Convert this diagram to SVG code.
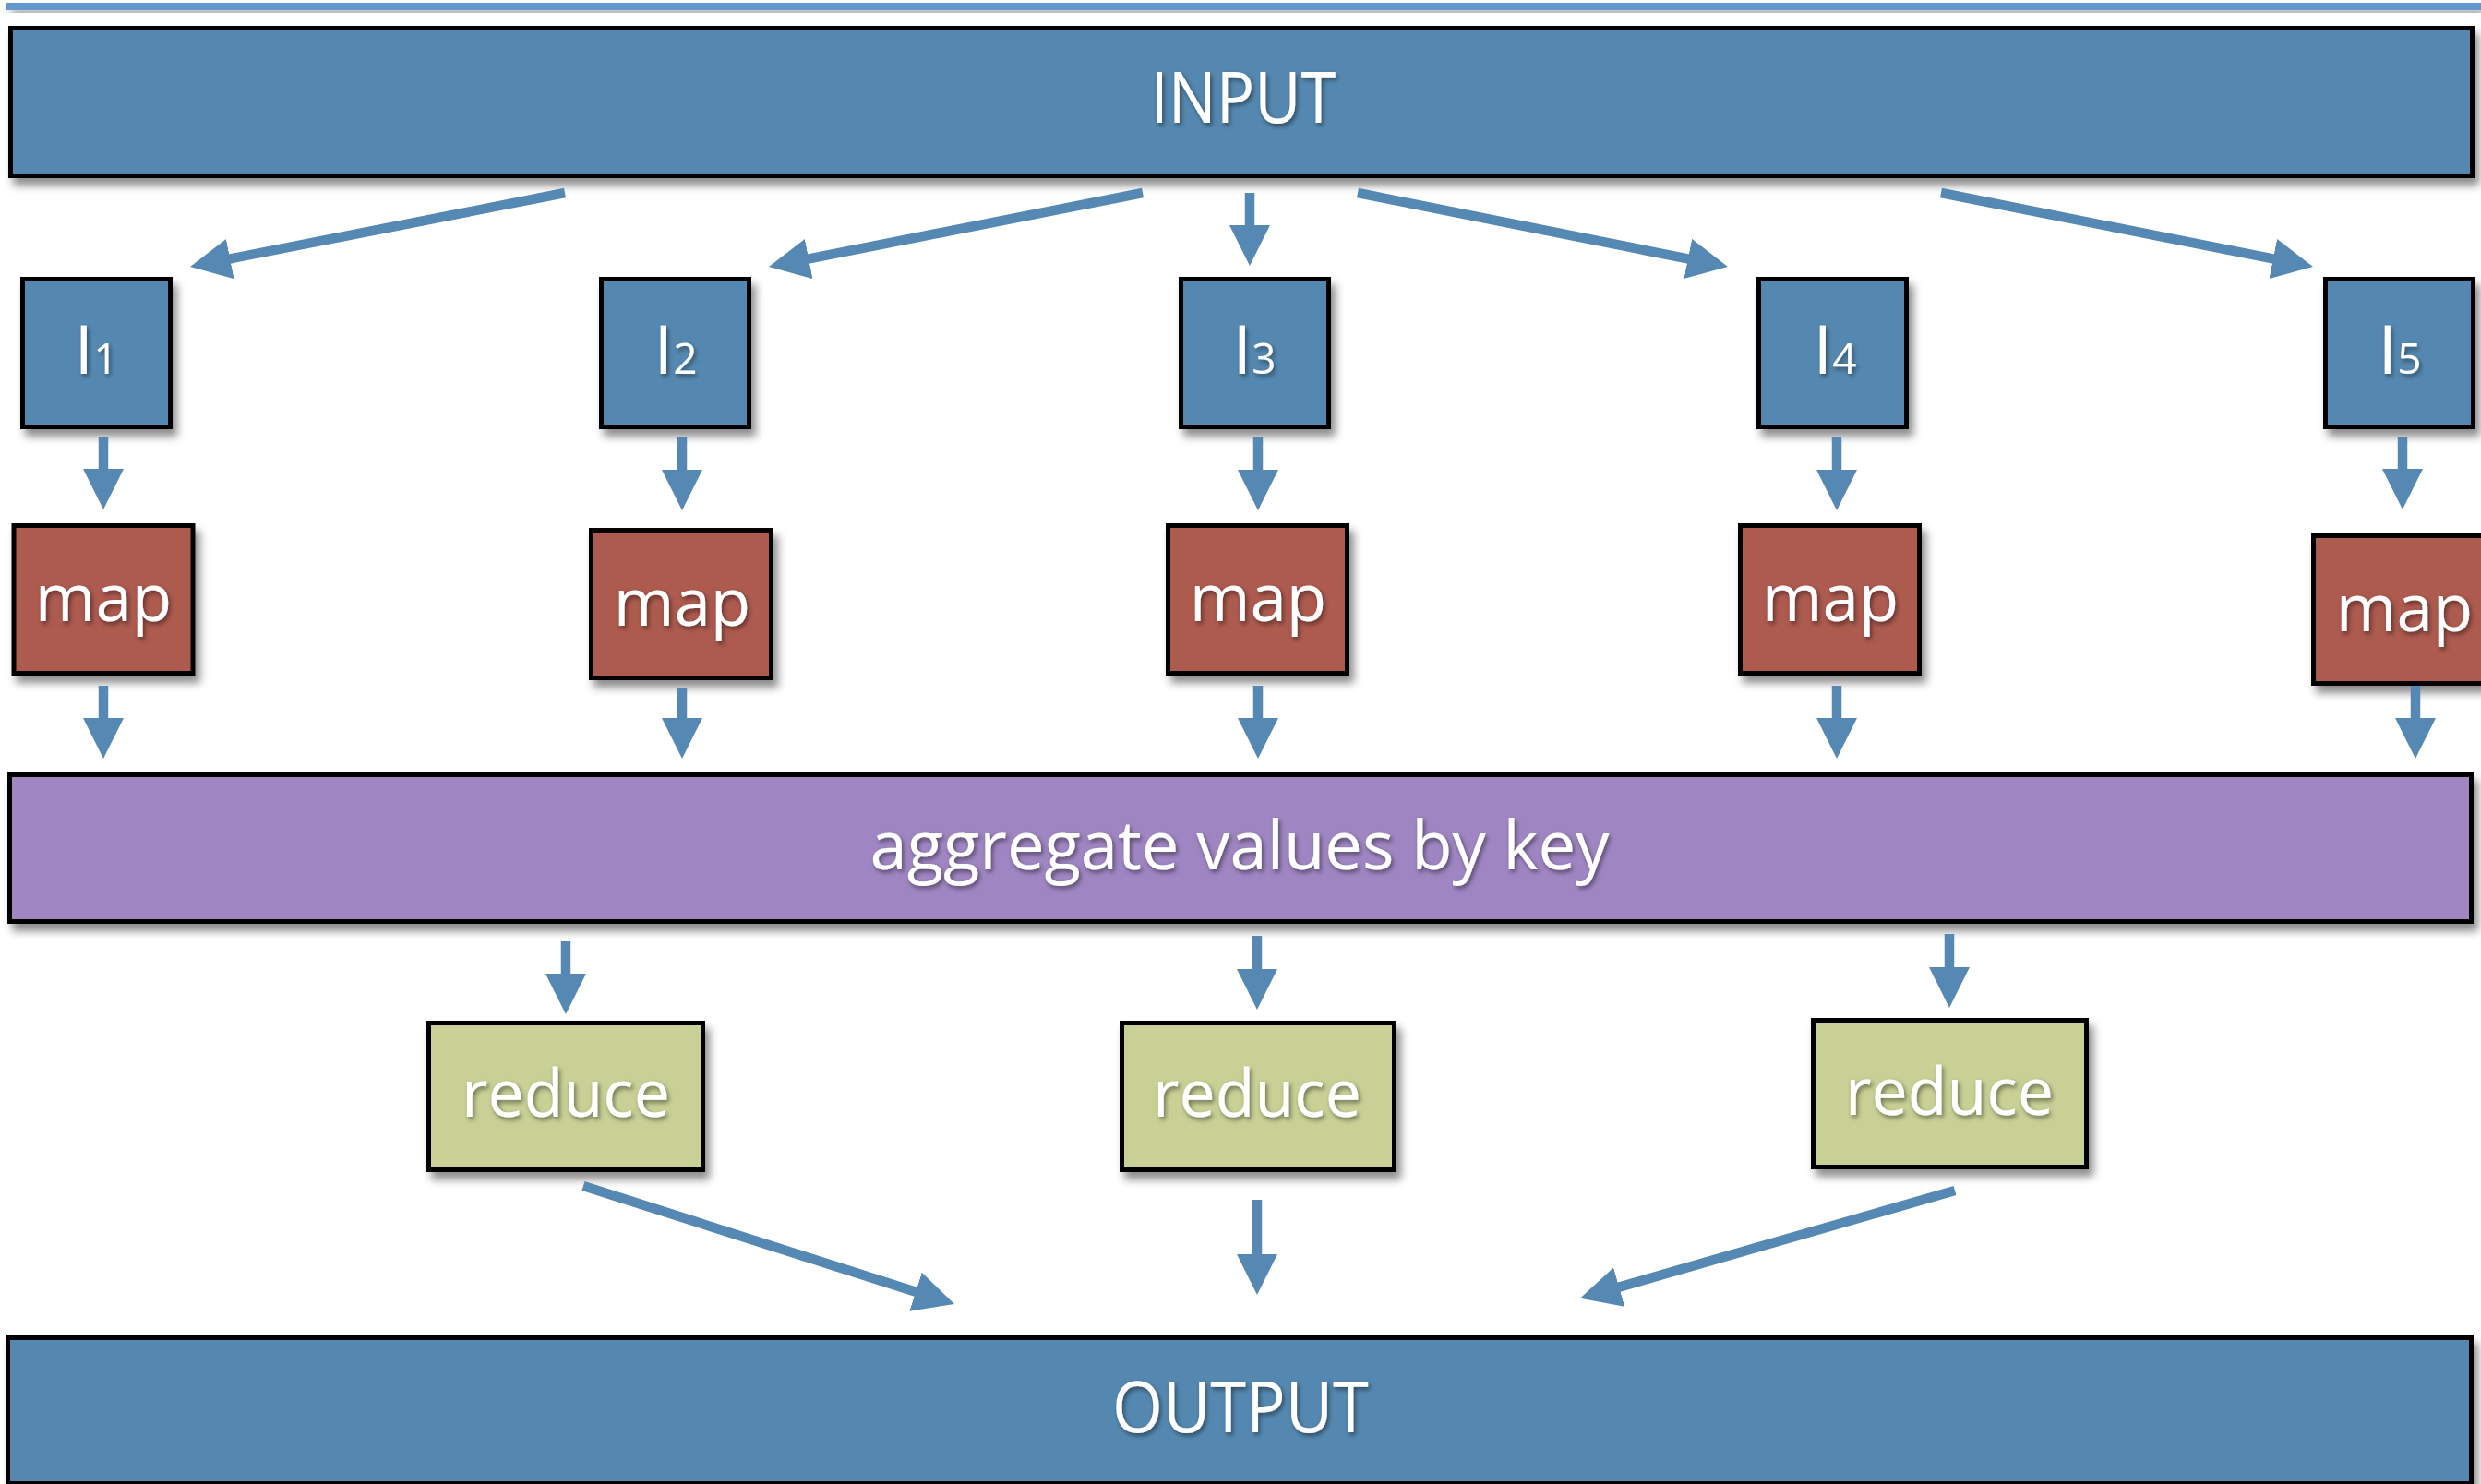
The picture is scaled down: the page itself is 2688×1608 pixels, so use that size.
<svg xmlns="http://www.w3.org/2000/svg" width="2688" height="1608" viewBox="0 0 2688 1608">
<defs>
<filter id="sh" x="-10%" y="-10%" width="130%" height="140%">
<feDropShadow dx="5" dy="8" stdDeviation="5" flood-color="#000" flood-opacity="0.45"/>
</filter>
<filter id="tsh" x="-10%" y="-20%" width="130%" height="150%">
<feDropShadow dx="2" dy="3" stdDeviation="2.5" flood-color="#000" flood-opacity="0.45"/>
</filter>
<marker id="ah" markerUnits="userSpaceOnUse" markerWidth="46" markerHeight="46" refX="10" refY="22" orient="auto">
<path d="M0,0 L44,22 L0,44 Z" fill="#5589b3"/>
</marker>
</defs>
<style>
.box{stroke:#000;stroke-width:5;filter:url(#sh)}
.blue{fill:#5588b0}
.red{fill:#ad5a4f}
.purple{fill:#9f86c2}
.green{fill:#c8d095}
.t{font-family:"Open Sans","Noto Sans",sans-serif;fill:#fff;text-anchor:middle;filter:url(#tsh)}
.con line{stroke:#5589b3;stroke-width:10.5;marker-end:url(#ah)}
</style>
<rect x="0" y="0" width="2688" height="1608" fill="#fff"/>
<rect x="7" y="3" width="2681" height="8" fill="#6398cc" filter="url(#sh)"/>

<g id="input">
<rect class="box blue" x="11.5" y="30.5" width="2667" height="160"/>
<text class="t" x="1347" y="133" font-size="76" textLength="201" lengthAdjust="spacingAndGlyphs">INPUT</text>
</g>

<g id="i1"><rect class="box blue" x="24.5" y="302.5" width="160" height="160"/>
<text class="t" x="104" y="405" font-size="74">I<tspan font-size="46">1</tspan></text></g>
<g id="i2"><rect class="box blue" x="651.5" y="302.5" width="160" height="160"/>
<text class="t" x="732" y="405" font-size="74">I<tspan font-size="46">2</tspan></text></g>
<g id="i3"><rect class="box blue" x="1279.5" y="302.5" width="160" height="160"/>
<text class="t" x="1359" y="405" font-size="74">I<tspan font-size="46">3</tspan></text></g>
<g id="i4"><rect class="box blue" x="1905.5" y="302.5" width="160" height="160"/>
<text class="t" x="1988" y="405" font-size="74">I<tspan font-size="46">4</tspan></text></g>
<g id="i5"><rect class="box blue" x="2519.5" y="302.5" width="160" height="160"/>
<text class="t" x="2600" y="405" font-size="74">I<tspan font-size="46">5</tspan></text></g>

<g id="map1"><rect class="box red" x="15" y="569.5" width="194" height="160"/>
<text class="t" x="112" y="673" font-size="71">map</text></g>
<g id="map2"><rect class="box red" x="640.5" y="574.5" width="195" height="160"/>
<text class="t" x="739" y="678" font-size="71">map</text></g>
<g id="map3"><rect class="box red" x="1265.5" y="569.5" width="194" height="160"/>
<text class="t" x="1363" y="673" font-size="71">map</text></g>
<g id="map4"><rect class="box red" x="1885.5" y="569.5" width="194" height="160"/>
<text class="t" x="1983" y="673" font-size="71">map</text></g>
<g id="map5"><rect class="box red" x="2506.5" y="580.5" width="200" height="160"/>
<text class="t" x="2605" y="684" font-size="71">map</text></g>

<g id="aggregate"><rect class="box purple" x="10.5" y="839.5" width="2667" height="159"/>
<text class="t" x="1343" y="942" font-size="73" textLength="801" lengthAdjust="spacingAndGlyphs">aggregate values by key</text></g>

<g id="reduce1"><rect class="box green" x="464.5" y="1108.5" width="297" height="159"/>
<text class="t" x="613" y="1210" font-size="72" textLength="226" lengthAdjust="spacingAndGlyphs">reduce</text></g>
<g id="reduce2"><rect class="box green" x="1215.5" y="1108.5" width="295" height="159"/>
<text class="t" x="1362" y="1210" font-size="72" textLength="226" lengthAdjust="spacingAndGlyphs">reduce</text></g>
<g id="reduce3"><rect class="box green" x="1964.5" y="1105.5" width="296" height="159"/>
<text class="t" x="2112" y="1208" font-size="72" textLength="226" lengthAdjust="spacingAndGlyphs">reduce</text></g>

<g id="output"><rect class="box blue" x="8.5" y="1449.5" width="2669" height="158"/>
<text class="t" x="1344" y="1552" font-size="76" textLength="278" lengthAdjust="spacingAndGlyphs">OUTPUT</text></g>

<g id="connectors" class="con">
<line x1="612" y1="209" x2="239.4" y2="282.4"/>
<line x1="1238" y1="209" x2="866.4" y2="282.4"/>
<line x1="1354" y1="209" x2="1354" y2="254"/>
<line x1="1471" y1="209" x2="1838.6" y2="282.4"/>
<line x1="2103" y1="209" x2="2472.6" y2="282.4"/>

<line x1="112" y1="473" x2="112" y2="518"/>
<line x1="739" y1="473" x2="739" y2="519"/>
<line x1="1363" y1="473" x2="1363" y2="519"/>
<line x1="1990" y1="473" x2="1990" y2="519"/>
<line x1="2603" y1="473" x2="2603" y2="518"/>

<line x1="112" y1="743" x2="112" y2="788"/>
<line x1="739" y1="745" x2="739" y2="788"/>
<line x1="1363" y1="743" x2="1363" y2="788"/>
<line x1="1990" y1="743" x2="1990" y2="788"/>
<line x1="2617" y1="743" x2="2617" y2="788"/>

<line x1="613" y1="1020" x2="613" y2="1065"/>
<line x1="1362" y1="1014" x2="1362" y2="1060"/>
<line x1="2112" y1="1012" x2="2112" y2="1058"/>

<line x1="632" y1="1285" x2="1001.6" y2="1402.7"/>
<line x1="1362" y1="1300" x2="1362" y2="1369"/>
<line x1="2118" y1="1290" x2="1744.6" y2="1397.4"/>
</g>
</svg>
